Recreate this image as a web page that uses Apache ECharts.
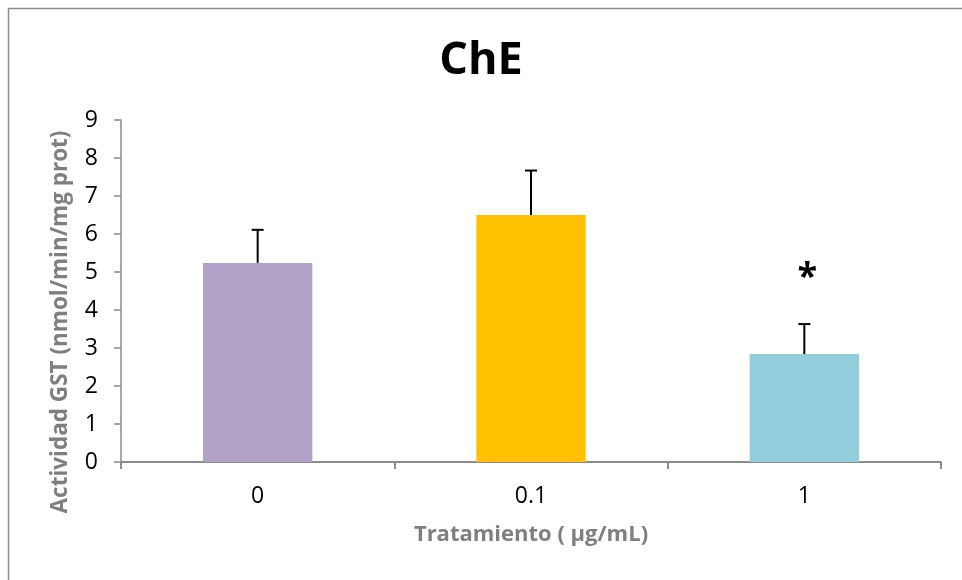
<!DOCTYPE html>
<html>
<head>
<meta charset="utf-8">
<script src="https://cdn.jsdelivr.net/npm/echarts@6/dist/echarts.min.js"></script>
<style>
  html, body { margin: 0; padding: 0; background: #fff; }
  #chart { width: 962px; height: 580px; }
</style>
</head>
<body>
<div id="chart"></div>
<script>
// Treatment concentrations (µg/mL)
const categories = ['0', '0.1', '1'];
// Mean GST activity per treatment
const means = [5.24, 6.50, 2.84];
// Standard deviation shown as the upper error bar
const errors = [0.87, 1.17, 0.79];
// Significance marks and the value where they sit
const sigMarks = ['', '', '*'];
const sigLevel = [null, null, 5.0];
const barColors = ['#B2A1C7', '#FFC000', '#92CDDC'];
const yTicks = [0, 1, 2, 3, 4, 5, 6, 7, 8, 9];

const chart = echarts.init(document.getElementById('chart'), null, { renderer: 'canvas' });

const axisGray = '#8c8c8c';
const fontFam = '"Open Sans", "Noto Sans", sans-serif';

const sigData = sigLevel.map((v, i) => [i, v, sigMarks[i]]).filter(d => d[1] !== null);

const option = {
  animation: false,
  backgroundColor: '#ffffff',
  title: {
    text: 'ChE',
    left: 'center',
    top: 34,
    textStyle: { fontFamily: fontFam, fontWeight: 'bold', fontSize: 45, color: '#000' }
  },
  grid: { left: 121, right: 21, top: 120, bottom: 118 },
  xAxis: {
    type: 'category',
    data: categories,
    axisLine: { show: true, lineStyle: { color: axisGray, width: 2 } },
    axisTick: { show: true, length: 7, lineStyle: { color: axisGray, width: 2 } },
    axisLabel: { color: '#000', fontFamily: fontFam, fontSize: 23, margin: 23 },
    name: 'Tratamiento ( µg/mL)',
    nameLocation: 'middle',
    nameGap: 62,
    nameTextStyle: { color: '#7f7f7f', fontFamily: fontFam, fontWeight: 'bold', fontSize: 22 }
  },
  yAxis: {
    type: 'value',
    min: yTicks[0],
    max: yTicks[yTicks.length - 1],
    interval: 1,
    splitLine: { show: false },
    axisLine: { show: true, lineStyle: { color: axisGray, width: 1.5 } },
    axisTick: { show: true, length: 7, lineStyle: { color: axisGray, width: 1.5 } },
    axisLabel: { color: '#000', fontFamily: fontFam, fontSize: 23, margin: 23 }
  },
  graphic: [
    {
      type: 'rect',
      shape: { x: 8.5, y: 8.5, width: 1000, height: 1000 },
      style: { fill: 'none', stroke: '#8c8c8c', lineWidth: 1.5 },
      silent: true
    },
    {
      type: 'text',
      x: 61,
      y: 322,
      rotation: Math.PI / 2,
      style: {
        text: 'Actividad GST (nmol/min/mg prot)',
        fill: '#7f7f7f',
        font: 'bold 22.5px ' + fontFam,
        align: 'center',
        verticalAlign: 'middle'
      }
    }
  ],
  series: [
    {
      type: 'bar',
      barWidth: '40%',
      data: means.map((v, i) => ({ value: v, itemStyle: { color: barColors[i] } })),
      z: 2
    },
    {
      // Upper error bars with a cap
      type: 'custom',
      data: means.map((v, i) => [i, v, v + errors[i]]),
      renderItem: function (params, api) {
        const base = api.coord([api.value(0), api.value(1)]);
        const top = api.coord([api.value(0), api.value(2)]);
        const cap = 6;
        const style = { stroke: '#000', lineWidth: 2 };
        return {
          type: 'group',
          children: [
            { type: 'line', shape: { x1: base[0], y1: base[1], x2: top[0], y2: top[1] }, style: style },
            { type: 'line', shape: { x1: top[0] - cap, y1: top[1], x2: top[0] + cap, y2: top[1] }, style: style }
          ]
        };
      },
      z: 3
    },
    {
      // Significance marks above the bars
      type: 'custom',
      data: sigData,
      renderItem: function (params, api) {
        const p = api.coord([api.value(0), api.value(1)]);
        return {
          type: 'text',
          x: p[0] + 3,
          y: p[1] + 6,
          style: {
            text: sigData[params.dataIndex][2],
            fill: '#000',
            font: 'bold 36px ' + fontFam,
            align: 'center',
            verticalAlign: 'middle'
          }
        };
      },
      z: 3
    }
  ]
};

chart.setOption(option);
</script>
</body>
</html>
